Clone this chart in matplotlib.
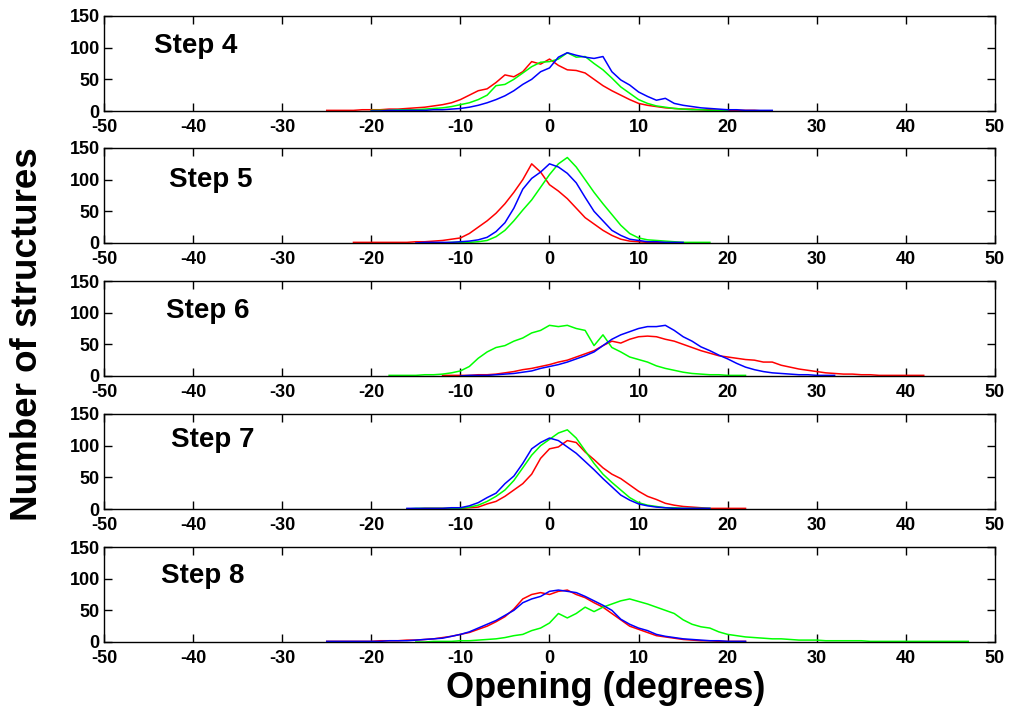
import numpy as np
import matplotlib
matplotlib.use("Agg")
import matplotlib.pyplot as plt

plt.rcParams['font.family'] = ['Liberation Sans', 'DejaVu Sans']
plt.rcParams['font.weight'] = 'bold'
plt.rcParams['axes.unicode_minus'] = False

steps = ["Step 4", "Step 5", "Step 6", "Step 7", "Step 8"]
xticks = [-50, -40, -30, -20, -10, 0, 10, 20, 30, 40, 50]
yticks = [0, 50, 100, 150]

# Histogram counts on 1-degree bins; each series starts at its *_x0 bin
s4_red_x0 = -25
s4_red = [1, 1, 1, 1, 2, 2, 2, 3, 3, 4, 5, 6, 8, 10, 13, 18, 25, 32, 35, 45, 57, 54, 62,
          78, 74, 82, 72, 65, 64, 60, 50, 40, 32, 25, 18, 12, 9, 7, 5, 4, 3, 3, 2, 2,
          1, 1, 1, 1, 1, 0, 0]
s4_green_x0 = -20
s4_green = [1, 1, 1, 2, 2, 2, 3, 4, 5, 7, 10, 13, 18, 25, 40, 42, 50, 60, 70, 77, 78, 82,
            92, 85, 86, 75, 65, 52, 38, 28, 18, 12, 8, 6, 4, 3, 2, 2, 1, 1, 1]
s4_blue_x0 = -20
s4_blue = [0, 0, 1, 1, 1, 1, 1, 2, 2, 3, 4, 6, 9, 13, 18, 24, 32, 42, 50, 62, 68, 85, 92,
           88, 85, 83, 86, 62, 49, 41, 30, 23, 17, 20, 12, 9, 7, 5, 4, 3, 2, 2, 1, 1, 1, 1]

s5_red_x0 = -22
s5_red = [1, 1, 1, 1, 1, 1, 1, 2, 2, 3, 4, 6, 8, 15, 25, 35, 47, 62, 80, 100, 125, 112,
          92, 82, 70, 55, 40, 30, 20, 12, 6, 3, 2, 1, 1, 1]
s5_green_x0 = -12
s5_green = [0, 1, 1, 1, 2, 4, 10, 20, 35, 52, 68, 88, 108, 125, 135, 120, 100, 80, 62,
            45, 28, 15, 8, 5, 4, 3, 2, 1, 1, 1, 1]
s5_blue_x0 = -15
s5_blue = [0, 1, 1, 1, 1, 2, 3, 5, 9, 18, 32, 55, 85, 102, 112, 125, 120, 110, 95, 72,
           50, 35, 20, 12, 6, 4, 2, 2, 1, 1, 1]

s6_red_x0 = -12
s6_red = [1, 1, 1, 1, 2, 2, 3, 5, 7, 10, 12, 15, 18, 22, 25, 30, 35, 40, 48, 55, 52, 58,
          62, 63, 62, 58, 55, 50, 45, 40, 36, 32, 30, 28, 26, 25, 22, 22, 17, 14, 11, 9,
          7, 5, 4, 3, 3, 2, 2, 1, 1, 1, 1, 1, 1]
s6_green_x0 = -18
s6_green = [1, 1, 1, 1, 2, 2, 3, 5, 8, 15, 28, 38, 45, 48, 55, 60, 68, 72, 80, 78, 80, 75,
            72, 48, 65, 45, 38, 30, 26, 22, 16, 12, 9, 6, 4, 3, 2, 2, 1, 1, 1]
s6_blue_x0 = -10
s6_blue = [0, 1, 1, 1, 2, 3, 4, 6, 8, 12, 15, 18, 22, 27, 32, 38, 48, 58, 65, 70, 75, 78,
           78, 80, 72, 62, 55, 46, 40, 33, 27, 20, 14, 10, 7, 5, 4, 3, 2, 2, 1, 1, 1]

s7_red_x0 = -16
s7_red = [0, 0, 1, 1, 1, 1, 1, 2, 3, 8, 12, 20, 30, 40, 55, 80, 95, 98, 108, 105, 90, 78,
          65, 55, 48, 38, 28, 20, 15, 9, 6, 4, 3, 2, 1, 1, 1, 1, 1]
s7_green_x0 = -16
s7_green = [0, 1, 1, 1, 1, 1, 1, 3, 6, 12, 20, 30, 45, 65, 85, 100, 110, 120, 125, 112,
            92, 72, 55, 42, 30, 18, 10, 6, 4, 2, 2, 1, 1, 1, 1]
s7_blue_x0 = -16
s7_blue = [1, 1, 1, 1, 1, 2, 2, 5, 10, 18, 25, 40, 52, 72, 95, 105, 112, 108, 98, 88, 75,
           62, 48, 35, 22, 14, 8, 5, 3, 2, 1, 1, 1, 1, 1]

s8_red_x0 = -25
s8_red = [1, 1, 1, 1, 1, 1, 2, 2, 2, 3, 3, 4, 5, 7, 9, 12, 15, 20, 25, 32, 40, 52, 68, 75,
          78, 75, 80, 82, 75, 70, 62, 55, 45, 35, 25, 20, 15, 10, 8, 6, 4, 3, 2, 2, 1, 1,
          1, 1]
s8_green_x0 = -15
s8_green = [0, 0, 1, 1, 1, 2, 2, 3, 4, 5, 7, 10, 12, 18, 22, 30, 45, 38, 45, 55, 48, 55,
            60, 65, 68, 64, 60, 55, 50, 45, 35, 28, 24, 22, 16, 12, 10, 8, 7, 6, 5, 5, 4,
            3, 3, 3, 2, 2, 2, 2, 2, 1, 1, 1, 1, 1, 1, 1, 1, 1, 1, 1, 1]
s8_blue_x0 = -25
s8_blue = [1, 1, 1, 1, 1, 1, 1, 2, 2, 2, 3, 4, 5, 6, 9, 12, 16, 22, 28, 34, 42, 50, 62,
           68, 72, 80, 82, 80, 78, 72, 65, 58, 50, 36, 28, 22, 18, 12, 9, 7, 5, 4, 3, 2,
           2, 1, 1, 1]

panels = [
    [(s4_red_x0, s4_red, 'red'), (s4_green_x0, s4_green, 'lime'), (s4_blue_x0, s4_blue, 'blue')],
    [(s5_red_x0, s5_red, 'red'), (s5_green_x0, s5_green, 'lime'), (s5_blue_x0, s5_blue, 'blue')],
    [(s6_red_x0, s6_red, 'red'), (s6_green_x0, s6_green, 'lime'), (s6_blue_x0, s6_blue, 'blue')],
    [(s7_red_x0, s7_red, 'red'), (s7_green_x0, s7_green, 'lime'), (s7_blue_x0, s7_blue, 'blue')],
    [(s8_red_x0, s8_red, 'red'), (s8_green_x0, s8_green, 'lime'), (s8_blue_x0, s8_blue, 'blue')],
]
label_pos = [(-44.4, 102), (-42.7, 100), (-43.0, 102), (-42.5, 109), (-43.6, 104)]

W, H = 1012, 712
fig = plt.figure(figsize=(W / 100, H / 100), dpi=100)
tops = [16, 148, 281, 414, 547]
ph = 95
left, right = 104, 995

for i, (series, name) in enumerate(zip(panels, steps)):
    top = tops[i]
    ax = fig.add_axes([left / W, 1 - (top + ph) / H, (right - left) / W, ph / H])
    for x0, vals, col in series:
        xs = np.arange(x0, x0 + len(vals))
        ax.plot(xs, vals, color=col, lw=1.1)
    ax.set_xlim(-50, 50)
    ax.set_ylim(0, 150)
    ax.set_xticks(xticks)
    ax.set_yticks(yticks)
    ax.tick_params(direction='in', top=True, right=True, length=6, width=1,
                   labelsize=13)
    ax.tick_params(axis='x', pad=6)
    ax.tick_params(axis='y', pad=3)
    for lab in ax.get_xticklabels() + ax.get_yticklabels():
        lab.set_fontweight('bold')
    for sp in ax.spines.values():
        sp.set_linewidth(1.0)
    lx, ly = label_pos[i]
    ax.text(lx, ly, name, fontsize=20, fontweight='bold', va='center', ha='left')

fig.text(28 / W, 1 - 334 / H, "Number of structures", rotation=90, fontsize=26.5,
         fontweight='bold', ha='center', va='center')
fig.text(606 / W, 1 - 688 / H, "Opening (degrees)", fontsize=26, fontweight='bold',
         ha='center', va='center')

fig.savefig("out.png", dpi=100)
